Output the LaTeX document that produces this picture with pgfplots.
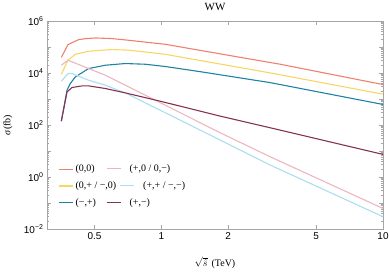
\documentclass[border=0pt]{standalone}
\usepackage{pgfplots}
\pgfplotsset{compat=1.18}
\usepackage{fontspec}
\setmainfont{Liberation Serif}
\newfontfamily\ticksf{Liberation Sans}
\definecolor{cred}{RGB}{240,128,110}
\definecolor{cyel}{RGB}{247,214,100}
\definecolor{cpink}{RGB}{236,182,192}
\definecolor{ccyan}{RGB}{170,222,240}
\definecolor{cteal}{RGB}{30,130,165}
\definecolor{cpurp}{RGB}{135,50,80}
\begin{document}
\begin{tikzpicture}
\begin{axis}[name=ax, scale only axis, width=336bp, height=208bp,
  xmode=log, ymode=log, xmin=0.305, xmax=10, ymin=1e-2, ymax=1e6,
  xtick={0.5,1,2,5,10}, xticklabels={0.5,1,2,5,10}, minor xtick={},
  ytick={1e-2,1e-1,1,10,100,1e3,1e4,1e5,1e6},
  yticklabels={10\textsuperscript{−2},,10\textsuperscript{0},,10\textsuperscript{2},,10\textsuperscript{4},,10\textsuperscript{6}},
  minor ytick={2e-2,3e-2,4e-2,5e-2,6e-2,7e-2,8e-2,9e-2,
    2e-1,3e-1,4e-1,5e-1,6e-1,7e-1,8e-1,9e-1,
    2,3,4,5,6,7,8,9,20,30,40,50,60,70,80,90,
    200,300,400,500,600,700,800,900,
    2e3,3e3,4e3,5e3,6e3,7e3,8e3,9e3,
    2e4,3e4,4e4,5e4,6e4,7e4,8e4,9e4,
    2e5,3e5,4e5,5e5,6e5,7e5,8e5,9e5},
  tick align=inside, major tick length=4bp, minor tick length=2bp,
  axis line style={gray!70}, tick style={gray!70},
  ticklabel style={font=\ticksf\fontsize{10}{12}\selectfont},
  title={WW},
  every axis title/.style={font=\fontsize{11}{13}\selectfont, at={(axis description cs:0.5,1.067)}, anchor=center},
  xlabel={$\sqrt{\hat{s}}$\hspace{4bp}(TeV)}, xlabel style={font=\fontsize{10}{12}\selectfont, at={(axis description cs:0.5,-0.163)}, anchor=center},
  ylabel={\textit{σ}(fb)}, ylabel style={font=\fontsize{10}{12}\selectfont, at={(axis description cs:-0.116,0.5)}, anchor=center},
  legend style={at={(axis description cs:0.025,0.085)}, anchor=south west, draw=none, fill=none,
    font=\fontsize{10}{12}\selectfont, row sep=4.5bp},
  legend cell align=left,
  legend image code/.code={\draw[#1] (0bp,0bp) -- (14bp,0bp);},
  every axis plot/.append style={line width=1.1bp}
]
\addplot[cred] coordinates {(0.354,3.98e4) (0.3795,1.242e5) (0.424,1.932e5) (0.46,2.11e5) (0.504,2.223e5) (0.599,2.109e5) (0.712,1.816e5) (1.04,1.274e5) (2.44,3.597e4) (3.44,2.173e4) (10,3.589e3)};
\addlegendentry{\makebox[31bp][l]{(0,0)}\textcolor{cpink}{\rule[2.8bp]{14bp}{1.1bp}}\hspace{9bp}(+,0 / 0,−)}
\addplot[cyel] coordinates {(0.354,8.97e3) (0.3795,3.097e4) (0.4093,5.26e4) (0.47,6.855e4) (0.5589,7.674e4) (0.6,7.943e4) (0.712,7.586e4) (1.04,5.248e4) (3.1,1.007e4) (10,1.531e3)};
\addlegendentry{(0,+ / −,0)\hspace{4bp}\textcolor{ccyan}{\rule[2.8bp]{14bp}{1.1bp}}\hspace{9bp}(+,+ / −,−)}
\addplot[cteal] coordinates {(0.354,140.6) (0.3756,2183) (0.3886,3945) (0.4093,7060) (0.47,1.486e4) (0.5589,1.991e4) (0.688,2.312e4) (0.847,2.173e4) (1.04,1.78e4) (1.5,1.122e4) (1.846,8.51e3) (3.1,4.266e3) (10,616.6)};
\addlegendentry{\makebox[31bp][l]{(−,+)}\textcolor{cpurp}{\rule[2.8bp]{14bp}{1.1bp}}\hspace{9bp}(+,−)}
\addplot[cpink, forget plot] coordinates {(0.354,1.991e4) (0.3795,3.097e4) (0.47,1.486e4) (0.5589,8.22e3) (0.688,3.388e3) (1.846,50.0) (3.1,5.98) (10,0.0617)};
\addplot[ccyan, forget plot] coordinates {(0.354,4.83e3) (0.3795,9.55e3) (0.3956,9.55e3) (0.47,5.28e3) (0.5589,3.40e3) (0.688,1.718e3) (1.846,26.2) (3.1,2.877) (10,0.0297)};
\addplot[cpurp, forget plot] coordinates {(0.354,140.6) (0.3756,1875) (0.3956,2767) (0.4386,3190) (0.47,3190) (0.5589,2535) (0.688,1718) (1.0,803.5) (1.846,218.8) (3.44,63.5) (10,7.40)};
\end{axis}
\pgfresetboundingbox
\path[use as bounding box] ([xshift=-47bp,yshift=-44bp]ax.south west) rectangle ([xshift=6bp,yshift=21bp]ax.north east);
\end{tikzpicture}
\end{document}
